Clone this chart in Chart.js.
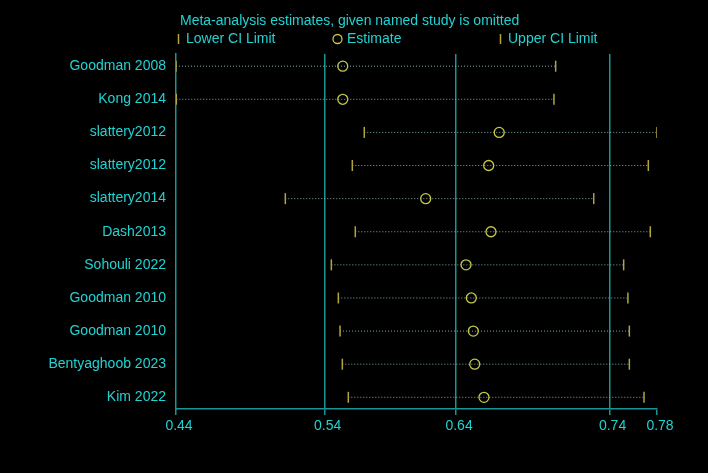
<!DOCTYPE html>
<html>
<head>
<meta charset="utf-8">
<script src="https://cdn.jsdelivr.net/npm/chart.js@4/dist/chart.umd.min.js"></script>
<style>
  html, body { margin: 0; padding: 0; background: #000; }
  canvas { display: block; }
</style>
</head>
<body>
<canvas id="influenceChart" width="708" height="473"></canvas>
<script>
"use strict";
// studies, top to bottom
const studies = ['Goodman 2008', 'Kong 2014', 'slattery2012', 'slattery2012', 'slattery2014', 'Dash2013',
    'Sohouli 2022', 'Goodman 2010', 'Goodman 2010', 'Bentyaghoob 2023', 'Kim 2022'];
const lowerCI = [0.4395, 0.4397, 0.5716, 0.5632, 0.5162, 0.5653, 0.5485, 0.5534, 0.5546, 0.5562, 0.5604];
const estimate = [0.5565, 0.5565, 0.6663, 0.6589, 0.6147, 0.6605, 0.6430, 0.6467, 0.6481, 0.6491, 0.6556];
const upperCI = [0.7059, 0.7047, 0.7770, 0.7709, 0.7326, 0.7723, 0.7536, 0.7566, 0.7576, 0.7576, 0.7679];
// x ticks: min, overall lower CI, overall estimate, overall upper CI, max
const xTicks = [0.4395, 0.5438, 0.6360, 0.7437, 0.7770];

const textColor = '#22d3d3';
const axisColor = '#1a9494';
const estColor = '#c8c84a';
const ciColor = '#b3a53e';
const dotColor = 'rgba(140,190,190,0.9)';
const font = { family: '"Liberation Sans", Arial, sans-serif', size: 14 };

const rows = studies.map((s, i) => i + 1);

const ciLines = rows.map((y, i) => ({
    type: 'line',
    data: [{ x: lowerCI[i], y }, { x: upperCI[i], y }],
    borderColor: dotColor,
    borderWidth: 1,
    borderDash: [1, 2],
    pointRadius: 0,
    fill: false
}));

const headerPlugin = {
    id: 'header',
    afterDraw(chart) {
        const ctx = chart.ctx;
        ctx.save();
        ctx.font = '14px "Liberation Sans", Arial, sans-serif';
        ctx.fillStyle = textColor;
        ctx.textBaseline = 'middle';
        ctx.fillText('Meta-analysis estimates, given named study is omitted', 180, 21);
        ctx.fillText('Lower CI Limit', 186, 39);
        ctx.fillText('Estimate', 347, 39);
        ctx.fillText('Upper CI Limit', 508, 39);
        ctx.strokeStyle = ciColor;
        ctx.lineWidth = 1.5;
        ctx.beginPath();
        ctx.moveTo(178.5, 34); ctx.lineTo(178.5, 44);
        ctx.moveTo(500.5, 34); ctx.lineTo(500.5, 44);
        ctx.stroke();
        ctx.strokeStyle = estColor;
        ctx.lineWidth = 1.3;
        ctx.beginPath();
        ctx.arc(337.5, 39, 4.5, 0, Math.PI * 2);
        ctx.stroke();
        ctx.restore();
    }
};

const ctx = document.getElementById('influenceChart').getContext('2d');
new Chart(ctx, {
    type: 'scatter',
    data: {
        datasets: [
            {
                data: rows.map((y, i) => ({ x: estimate[i], y })),
                pointStyle: 'circle',
                pointRadius: 5,
                borderColor: estColor,
                backgroundColor: 'rgba(0,0,0,0)',
                borderWidth: 1.3
            },
            {
                data: rows.map((y, i) => ({ x: lowerCI[i], y })),
                pointStyle: 'line',
                rotation: 90,
                pointRadius: 5.5,
                borderColor: ciColor,
                borderWidth: 1.5
            },
            {
                data: rows.map((y, i) => ({ x: upperCI[i], y })),
                pointStyle: 'line',
                rotation: 90,
                pointRadius: 5.5,
                borderColor: ciColor,
                borderWidth: 1.5
            },
            ...ciLines
        ]
    },
    options: {
        responsive: false,
        animation: false,
        events: [],
        layout: { padding: { top: 54, right: 51, left: 0, bottom: 0 } },
        plugins: {
            legend: { display: false },
            tooltip: { enabled: false }
        },
        scales: {
            x: {
                type: 'linear',
                min: xTicks[0],
                max: xTicks[xTicks.length - 1],
                afterBuildTicks: scale => { scale.ticks = xTicks.map(v => ({ value: v })); },
                afterFit: scale => { scale.height = 64; },
                grid: {
                    color: c => (c.index === 0 || c.index === xTicks.length - 1) ? 'rgba(0,0,0,0)' : axisColor,
                    tickColor: axisColor,
                    tickLength: 6,
                    lineWidth: 1.5
                },
                border: { color: axisColor, width: 1.5 },
                ticks: {
                    color: textColor,
                    font,
                    padding: 3,
                    labelOffset: 3,
                    maxRotation: 0,
                    autoSkip: false,
                    callback: v => v.toFixed(2)
                }
            },
            y: {
                type: 'linear',
                reverse: true,
                min: 0.632,
                max: 11.353,
                afterBuildTicks: scale => { scale.ticks = rows.map(v => ({ value: v })); },
                afterFit: scale => { scale.width = 176; },
                grid: { display: false, drawTicks: false },
                border: { color: axisColor, width: 1.5 },
                ticks: {
                    color: textColor,
                    font,
                    padding: 10,
                    autoSkip: false,
                    callback: v => studies[v - 1]
                }
            }
        }
    },
    plugins: [headerPlugin]
});
</script>
</body>
</html>
